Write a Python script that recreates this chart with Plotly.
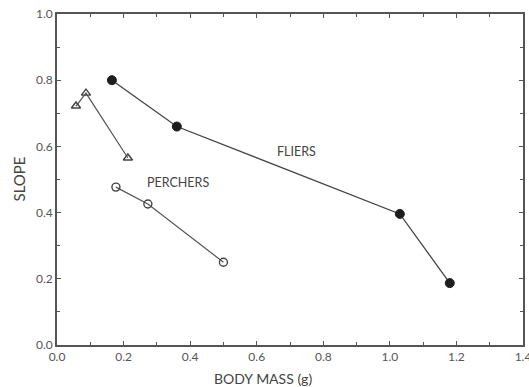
import plotly.graph_objects as go

fliers_x = [0.165, 0.36, 1.03, 1.18]
fliers_y = [0.80, 0.66, 0.396, 0.187]
perch_circ_x = [0.177, 0.273, 0.50]
perch_circ_y = [0.477, 0.426, 0.25]
perch_tri_x = [0.057, 0.087, 0.213]
perch_tri_y = [0.722, 0.761, 0.565]

x_ticks = [0.0, 0.2, 0.4, 0.6, 0.8, 1.0, 1.2, 1.4]
y_ticks = [0.0, 0.2, 0.4, 0.6, 0.8, 1.0]

font_family = "Lato, 'DejaVu Sans', sans-serif"

fig = go.Figure()
fig.add_trace(go.Scatter(
    x=fliers_x, y=fliers_y, mode="lines+markers",
    line=dict(color="#444", width=1.3),
    marker=dict(symbol="circle", size=9, color="#1e1e1e", line=dict(color="#1e1e1e", width=1)),
))
fig.add_trace(go.Scatter(
    x=perch_circ_x, y=perch_circ_y, mode="lines+markers",
    line=dict(color="#555", width=1.2),
    marker=dict(symbol="circle-open", size=8, color="#444", line=dict(width=1.4)),
))
fig.add_trace(go.Scatter(
    x=perch_tri_x, y=perch_tri_y, mode="lines+markers",
    line=dict(color="#555", width=1.2),
    marker=dict(symbol="triangle-up-open", size=8, color="#444", line=dict(width=1.4)),
))

axis_common = dict(
    showgrid=False, zeroline=False, showline=True, linecolor="#555", linewidth=1.5,
    mirror="allticks", ticks="inside", ticklen=4, tickwidth=1.2, tickcolor="#555",
    tickfont=dict(family=font_family, size=12, color="#555"),
    tickformat=".1f", ticklabeloverflow="allow", automargin=False,
    minor=dict(ticks="inside", ticklen=3, tickwidth=1.2, tickcolor="#555", dtick=0.1),
)

fig.update_xaxes(range=[0, 1.4], tickvals=x_ticks, **axis_common)
fig.update_yaxes(range=[0, 1.0], tickvals=y_ticks, **axis_common)

fig.add_annotation(x=0.363, y=0.49, text="PERCHERS", showarrow=False,
                   font=dict(family=font_family, size=12.5, color="#444"))
fig.add_annotation(x=0.72, y=0.586, text="FLIERS", showarrow=False,
                   font=dict(family=font_family, size=12.5, color="#444"))
fig.add_annotation(xref="paper", yref="paper", x=0.442, y=0, yanchor="middle",
                   yshift=-33, text="BODY MASS (g)", showarrow=False,
                   font=dict(family=font_family, size=14, color="#444"))
fig.add_annotation(xref="paper", yref="paper", x=0, y=0.5, xanchor="center",
                   xshift=-39, text="SLOPE", textangle=-90, showarrow=False,
                   font=dict(family=font_family, size=15, color="#444"))

fig.update_layout(
    width=529, height=387,
    margin=dict(l=57, r=6, t=14, b=42, autoexpand=False),
    paper_bgcolor="white", plot_bgcolor="white",
    showlegend=False,
)

fig.write_html("out.html")
